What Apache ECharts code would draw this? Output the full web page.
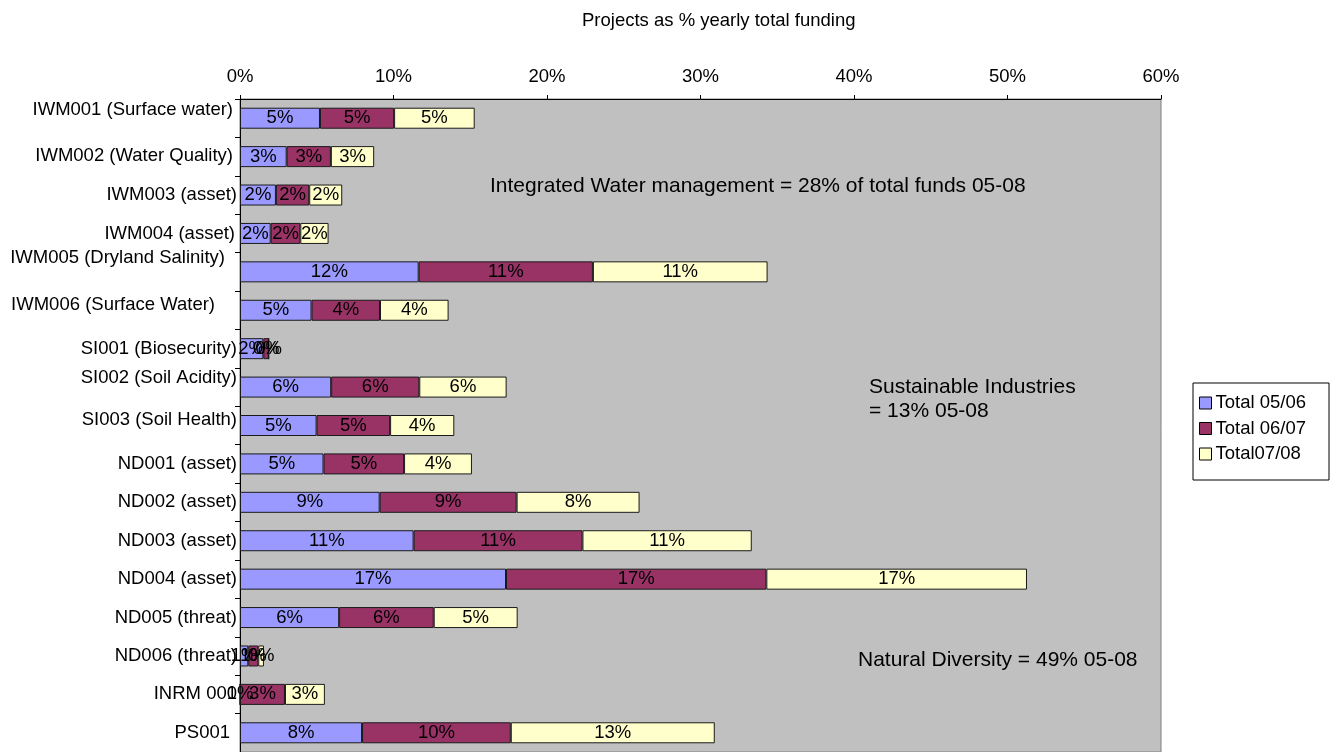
<!DOCTYPE html>
<html>
<head>
<meta charset="utf-8">
<script src="https://cdn.jsdelivr.net/npm/echarts@6/dist/echarts.min.js"></script>
<style>
html,body{margin:0;padding:0;background:#fff;}
#chart{width:1331px;height:752px;}
</style>
</head>
<body>
<div id="chart"></div>
<script>
var categories = ['IWM001 (Surface water)', 'IWM002 (Water Quality)', 'IWM003 (asset)', 'IWM004 (asset)', 'IWM005 (Dryland Salinity)', 'IWM006 (Surface Water)', 'SI001 (Biosecurity)', 'SI002 (Soil Acidity)', 'SI003 (Soil Health)', 'ND001 (asset)', 'ND002 (asset)', 'ND003 (asset)', 'ND004 (asset)', 'ND005 (threat)', 'ND006 (threat)', 'INRM 001', 'PS001'];
var seriesNames = ['Total 05/06', 'Total 06/07', 'Total07/08'];
var total0506 = [5.21, 3.04, 2.34, 2.0, 11.64, 4.66, 1.52, 5.94, 4.99, 5.44, 9.1, 11.31, 17.33, 6.46, 0.54, 0, 7.95];
var total0607 = [4.83, 2.88, 2.17, 1.93, 11.35, 4.46, 0.35, 5.74, 4.79, 5.25, 8.92, 11.0, 16.96, 6.16, 0.65, 2.93, 9.69];
var total0708 = [5.25, 2.82, 2.15, 1.84, 11.38, 4.47, 0, 5.69, 4.18, 4.42, 8.01, 11.03, 16.98, 5.47, 0.37, 2.6, 13.29];
var xTicks = { min: 0, max: 60, interval: 10 };
var title = 'Projects as % yearly total funding';
var notes = ['Integrated Water management = 28% of total funds 05-08', 'Sustainable Industries', '= 13% 05-08', 'Natural Diversity = 49% 05-08'];

var FONT = '"Liberation Sans", Arial, sans-serif';
var FS = 18.5;
var NFS = 21;
var colors = ['#9999FF', '#993366', '#FFFFCC'];
// per-label shifts (up, extra right padding) to mimic original label placement
var labelShift = [[8,4],[1,4],[0,0],[0,2],[14,12],[5,22],[0,0],[9,0],[6,0],[0,0],[0,0],[0,0],[0,0],[0,0],[0,0],[0,0],[0,7]];
var rich = {};
labelShift.forEach(function (s, i) {
  rich['s' + i] = { fontSize: FS, fontFamily: FONT, color: '#000', padding: [0, s[1], s[0] * 2, 0] };
});

var chart = echarts.init(document.getElementById('chart'));
var data = [total0506, total0607, total0708];
chart.setOption({
  animation: false,
  backgroundColor: '#fff',
  title: { text: title, left: 577, top: 6, textStyle: { fontSize: FS, fontWeight: 'normal', color: '#000', fontFamily: FONT } },
  grid: { left: 240, top: 99, width: 921, height: 656, show: true, backgroundColor: '#C0C0C0', borderColor: '#808080', borderWidth: 1, containLabel: false },
  legend: {
    orient: 'vertical', left: 1199, top: 393, padding: 0, itemWidth: 12, itemHeight: 12, itemGap: 5.5,
    icon: 'rect',
    itemStyle: { borderColor: '#000', borderWidth: 1 },
    textStyle: { fontSize: FS, fontFamily: FONT, color: '#000', lineHeight: 20, padding: [0, 0, 0, -1] },
    data: seriesNames
  },
  xAxis: {
    type: 'value', position: 'top', min: xTicks.min, max: xTicks.max, interval: xTicks.interval,
    splitLine: { show: false },
    axisLine: { show: true, lineStyle: { color: '#000', width: 1 } },
    axisTick: { show: true, length: 4, lineStyle: { color: '#000' } },
    axisLabel: { formatter: '{value}%', fontSize: FS, fontFamily: FONT, color: '#000', margin: 13 }
  },
  yAxis: {
    type: 'category', inverse: true, data: categories,
    axisLine: { show: true, lineStyle: { color: '#000', width: 1 } },
    axisTick: { show: true, length: 5, lineStyle: { color: '#000' } },
    axisLabel: {
      margin: 3, fontSize: FS, fontFamily: FONT, color: '#000', interval: 0,
      formatter: function (v, i) { return '{s' + i + '|' + v + '}'; },
      rich: rich
    }
  },
  graphic: [
    { type: 'rect', z: 0, shape: { x: 1193, y: 383, width: 136, height: 97 }, style: { fill: '#fff', stroke: '#000', lineWidth: 1 } },
    { type: 'text', x: 490, y: 186, z: 10, style: { text: notes[0], fontSize: NFS, fontFamily: FONT, fill: '#000', verticalAlign: 'middle' } },
    { type: 'text', x: 869, y: 387, z: 10, style: { text: notes[1], fontSize: NFS, fontFamily: FONT, fill: '#000', verticalAlign: 'middle' } },
    { type: 'text', x: 869, y: 411, z: 10, style: { text: notes[2], fontSize: NFS, fontFamily: FONT, fill: '#000', verticalAlign: 'middle' } },
    { type: 'text', x: 858, y: 660, z: 10, style: { text: notes[3], fontSize: NFS, fontFamily: FONT, fill: '#000', verticalAlign: 'middle' } }
  ],
  series: seriesNames.map(function (name, k) {
    return {
      name: name, type: 'bar', stack: 'total', barWidth: 21,
      data: data[k],
      itemStyle: { color: colors[k], borderColor: '#1a1a1a', borderWidth: 1 },
      label: {
        show: true, position: 'inside', color: '#000', fontSize: FS, fontFamily: FONT,
        formatter: function (p) { return Math.round(p.value) + '%'; }
      }
    };
  })
});
</script>
</body>
</html>
